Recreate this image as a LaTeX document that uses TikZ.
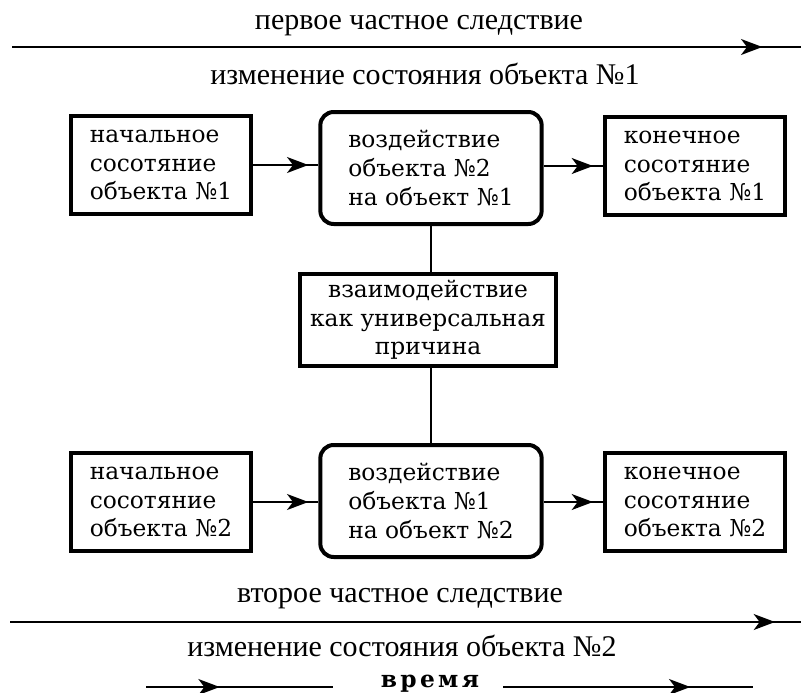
\documentclass[tikz,border=0pt]{standalone}
\usepackage{fontspec}
\setmainfont{Liberation Serif}
\newfontfamily\boxfont{DejaVu Serif}
\usetikzlibrary{arrows.meta,positioning,decorations.markings}

\begin{document}
\begin{tikzpicture}[x=0.75pt,y=-0.75pt,
    box/.style={draw,line width=3pt,inner sep=0pt,align=left,
      font=\boxfont\fontsize{17.5}{21.5}\selectfont},
    sidebox/.style={box,minimum width=135pt,minimum height=73pt},
    actbox/.style={box,rounded corners=10pt,minimum width=166pt,minimum height=84pt},
    link/.style={line width=1.2pt},
    tipat/.style={postaction={decorate},decoration={markings,
      mark=at position #1 with {\arrow{Stealth[length=16pt,width=12pt,inset=4.5pt]}}}},
    label/.style={font=\fontsize{22.5}{26}\selectfont}]
    \useasboundingbox (0,0) rectangle (801,693);

    % first object
    \node[label] (first) at (419,26) {первое частное следствие};
    \coordinate (t1a) at (12,47);
    \coordinate (t1b) at (801,47);
    \draw[link,tipat=-29pt] (t1a) -- (t1b);
    \node[label] (change1) at (425,74) {изменение состояния объекта №1};

    \node[sidebox] (L1) at (161,165) {начальное\\сосотяние\\объекта №1};
    \node[actbox] (M1) at (431,168) {воздействие\\объекта №2\\на объект №1};
    \node[sidebox] (R1) at (695,166) {конечное\\сосотяние\\объекта №1};
    \draw[link,tipat=-7.5pt] (L1.east) -- (L1.east -| M1.west);
    \draw[link,tipat=-7.5pt] (M1.east |- R1.west) -- (R1.west);

    % cause
    \node[box,align=center,minimum width=192pt,minimum height=69pt] (C) at (428,320)
      {взаимодействие\\как универсальная\\причина};

    % second object
    \node[sidebox] (L2) at (161,502) {начальное\\сосотяние\\объекта №2};
    \node[actbox] (M2) at (431,501) {воздействие\\объекта №1\\на объект №2};
    \node[sidebox] (R2) at (695,502) {конечное\\сосотяние\\объекта №2};
    \draw[link,tipat=-7.5pt] (L2.east) -- (L2.east -| M2.west);
    \draw[link,tipat=-7.5pt] (M2.east |- R2.west) -- (R2.west);

    \draw[link] (M1.south) -- (M1.south |- C.north);
    \draw[link] (M2.north) -- (M2.north |- C.south);

    \node[label] (second) at (400,599) {второе частное следствие};
    \coordinate (t2a) at (10,622);
    \coordinate (t2b) at (801,622);
    \draw[link,tipat=-19.5pt] (t2a) -- (t2b);
    \node[label] (change2) at (402,646) {изменение состояния объекта №2};

    % time axis
    \node[font=\boxfont\bfseries\fontsize{17.5}{19}\selectfont] (time) at (430,684)
      {в\hspace{2.5pt}р\hspace{2.5pt}е\hspace{2.5pt}м\hspace{2.5pt}я};
    \coordinate (ta) at (146,687);
    \coordinate (tb) at (333,687);
    \coordinate (tc) at (503,687);
    \coordinate (td) at (753,687);
    \draw[link,tipat=-85pt] (ta) -- (tb);
    \draw[link,tipat=-47pt] (tc) -- (td);
\end{tikzpicture}
\end{document}
